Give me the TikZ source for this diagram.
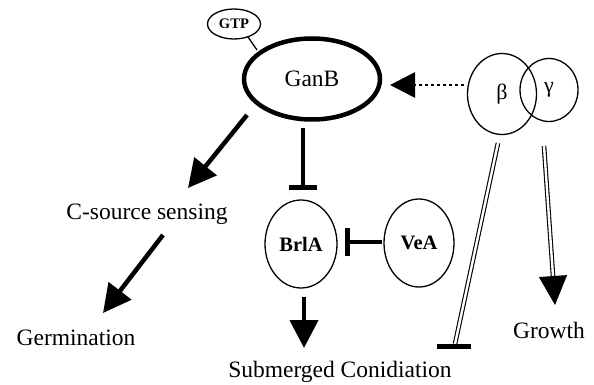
\documentclass[tikz,border=0pt]{standalone}
\usepackage{fontspec}
\setmainfont{Liberation Serif}
\usetikzlibrary{arrows.meta,calc,shapes.geometric}
\begin{document}
\begin{tikzpicture}[x=1pt,y=-1pt,
  lbl/.style={inner sep=0pt, anchor=base, font=\fontsize{23.5}{28}\selectfont},
  prot/.style={ellipse, draw, line width=1.3pt, inner sep=0pt},
  boldlbl/.style={font=\bfseries\fontsize{20.5}{24}\selectfont},
  fat/.style={line width=4.5pt, -{Triangle[length=28pt,width=28pt]}},
  inh/.style={line width=4.5pt, -{Bar[width=28pt,line width=5pt]}},
  dbl/.style={draw, line width=1.1pt, double=white, double distance=2.4pt},
  dots/.style={line width=2.8pt, dash pattern=on 2.8pt off 3.2pt, -{Triangle[length=25pt,width=25pt]}},
  ]
\useasboundingbox (0,0) rectangle (594,385);
% nodes
\node[prot, minimum width=53pt, minimum height=30pt, font=\bfseries\fontsize{14.6}{16}\selectfont] (gtp) at (234,24) {GTP};
\node[prot, line width=4.5pt, minimum width=136pt, minimum height=81pt, font=\fontsize{23.5}{28}\selectfont] (ganb) at (312,79) {GanB};
\node[prot, minimum width=58pt, minimum height=63pt, font=\fontsize{22}{26}\selectfont] (gamma) at (549,90) {γ};
\node[prot, minimum width=69pt, minimum height=81pt, font=\fontsize{22}{26}\selectfont] (beta) at (502,94) {β};
\node[prot, boldlbl, minimum width=72pt, minimum height=88pt] (brla) at (301,244) {BrlA};
\node[prot, boldlbl, minimum width=70pt, minimum height=88pt] (vea) at (419,243) {VeA};
\node[lbl] (csrc) at (147,219) {C-source sensing};
\node[lbl] (germ) at (76,345) {Germination};
\node[lbl] (subm) at (340,377) {Submerged Conidiation};
\node[lbl] (growth) at (549,338) {Growth};
% connectors
\draw[line width=1.3pt] ($(gtp)+(14,13)$) -- ($(ganb)+(-55,-29)$);
\draw[dots] ($(beta)+(-38,-9)$) -- ($(ganb)+(78,6)$);
\draw[fat] ($(ganb)+(-65,36)$) -- ($(csrc.base)+(41,-31)$);
\draw[fat] ($(csrc.base)+(16,16)$) -- ($(germ.base)+(27,-32)$);
\draw[inh] ($(ganb)+(-9,49)$) -- ($(brla)+(2,-54)$);
\draw[inh] ($(vea)+(-37,-1)$) -- ($(brla)+(44,-2)$);
\draw[fat] ($(brla)+(3,53)$) -- ($(subm.base)+(-36,-29)$);
% beta -| submerged conidiation
\coordinate (sbar) at ($(subm.base)+(114,-31)$);
\draw[dbl] ($(beta)+(-4,49)$) -- ($(sbar)+(1,-2)$);
\draw[line width=5pt] ($(sbar)+(-17,0)$) -- ($(sbar)+(17,0)$);
% gamma -> growth
\coordinate (grtip) at ($(growth.base)+(6,-33)$);
\coordinate (grbase) at ($(grtip)+(-2,-29)$);
\draw[dbl] ($(gamma)+(-5,56)$) -- (grbase);
\draw[line width=1pt, -{Triangle[length=29pt,width=28pt]}] (grbase) -- (grtip);
\end{tikzpicture}
\end{document}
